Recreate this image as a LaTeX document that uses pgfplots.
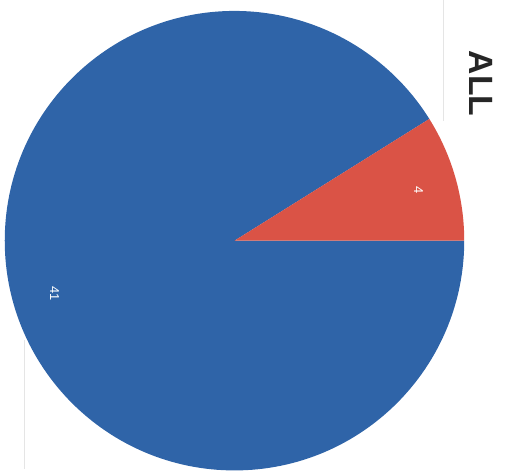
\documentclass[border=0pt]{standalone}
\usepackage{pgfplots}
\usepackage{pgfplotstable}
\usepackage{fontspec}
\setmainfont{Liberation Sans}
\setsansfont{Liberation Sans}
\pgfplotsset{compat=1.18}
\definecolor{pieblue}{HTML}{2F64A8}
\definecolor{piered}{HTML}{DA5346}
\pgfplotstableread{
label value
A 41
B 4
}\piedata
\begin{document}
\pgfplotstablegetelem{0}{value}\of\piedata \let\va\pgfplotsretval
\pgfplotstablegetelem{1}{value}\of\piedata \let\vb\pgfplotsretval
\pgfmathsetmacro\angB{360*\vb/(\va+\vb)}
\begin{tikzpicture}
\begin{axis}[
  hide axis, scale only axis,
  width=507bp, height=477bp,
  xmin=0, xmax=507, ymin=0, ymax=477,
  clip=false,
]
\path[use as bounding box] (axis cs:0,0) rectangle (axis cs:507,477);
\fill[pieblue] (axis cs:233,235) -- (axis cs:464,235) arc[start angle=0, end angle=-360+\angB, radius=231bp] -- cycle;
\fill[piered] (axis cs:233,235) -- (axis cs:464,235) arc[start angle=0, end angle=\angB, radius=231bp] -- cycle;
\draw[gray!20, line width=0.8pt] (axis cs:443,477) -- (axis cs:443,355);
\draw[gray!20, line width=0.8pt] (axis cs:22,135) -- (axis cs:22,5);
\node[rotate=-90, white, font=\sffamily\fontsize{13}{15}\selectfont] at (axis cs:52,182) {41};
\node[rotate=-90, white, font=\sffamily\fontsize{13}{15}\selectfont] at (axis cs:418,286) {4};
\node[rotate=-90, text=black!85, font=\sffamily\bfseries\fontsize{34}{40}\selectfont] at (axis cs:481,393) {ALL};
\end{axis}
\end{tikzpicture}
\end{document}
